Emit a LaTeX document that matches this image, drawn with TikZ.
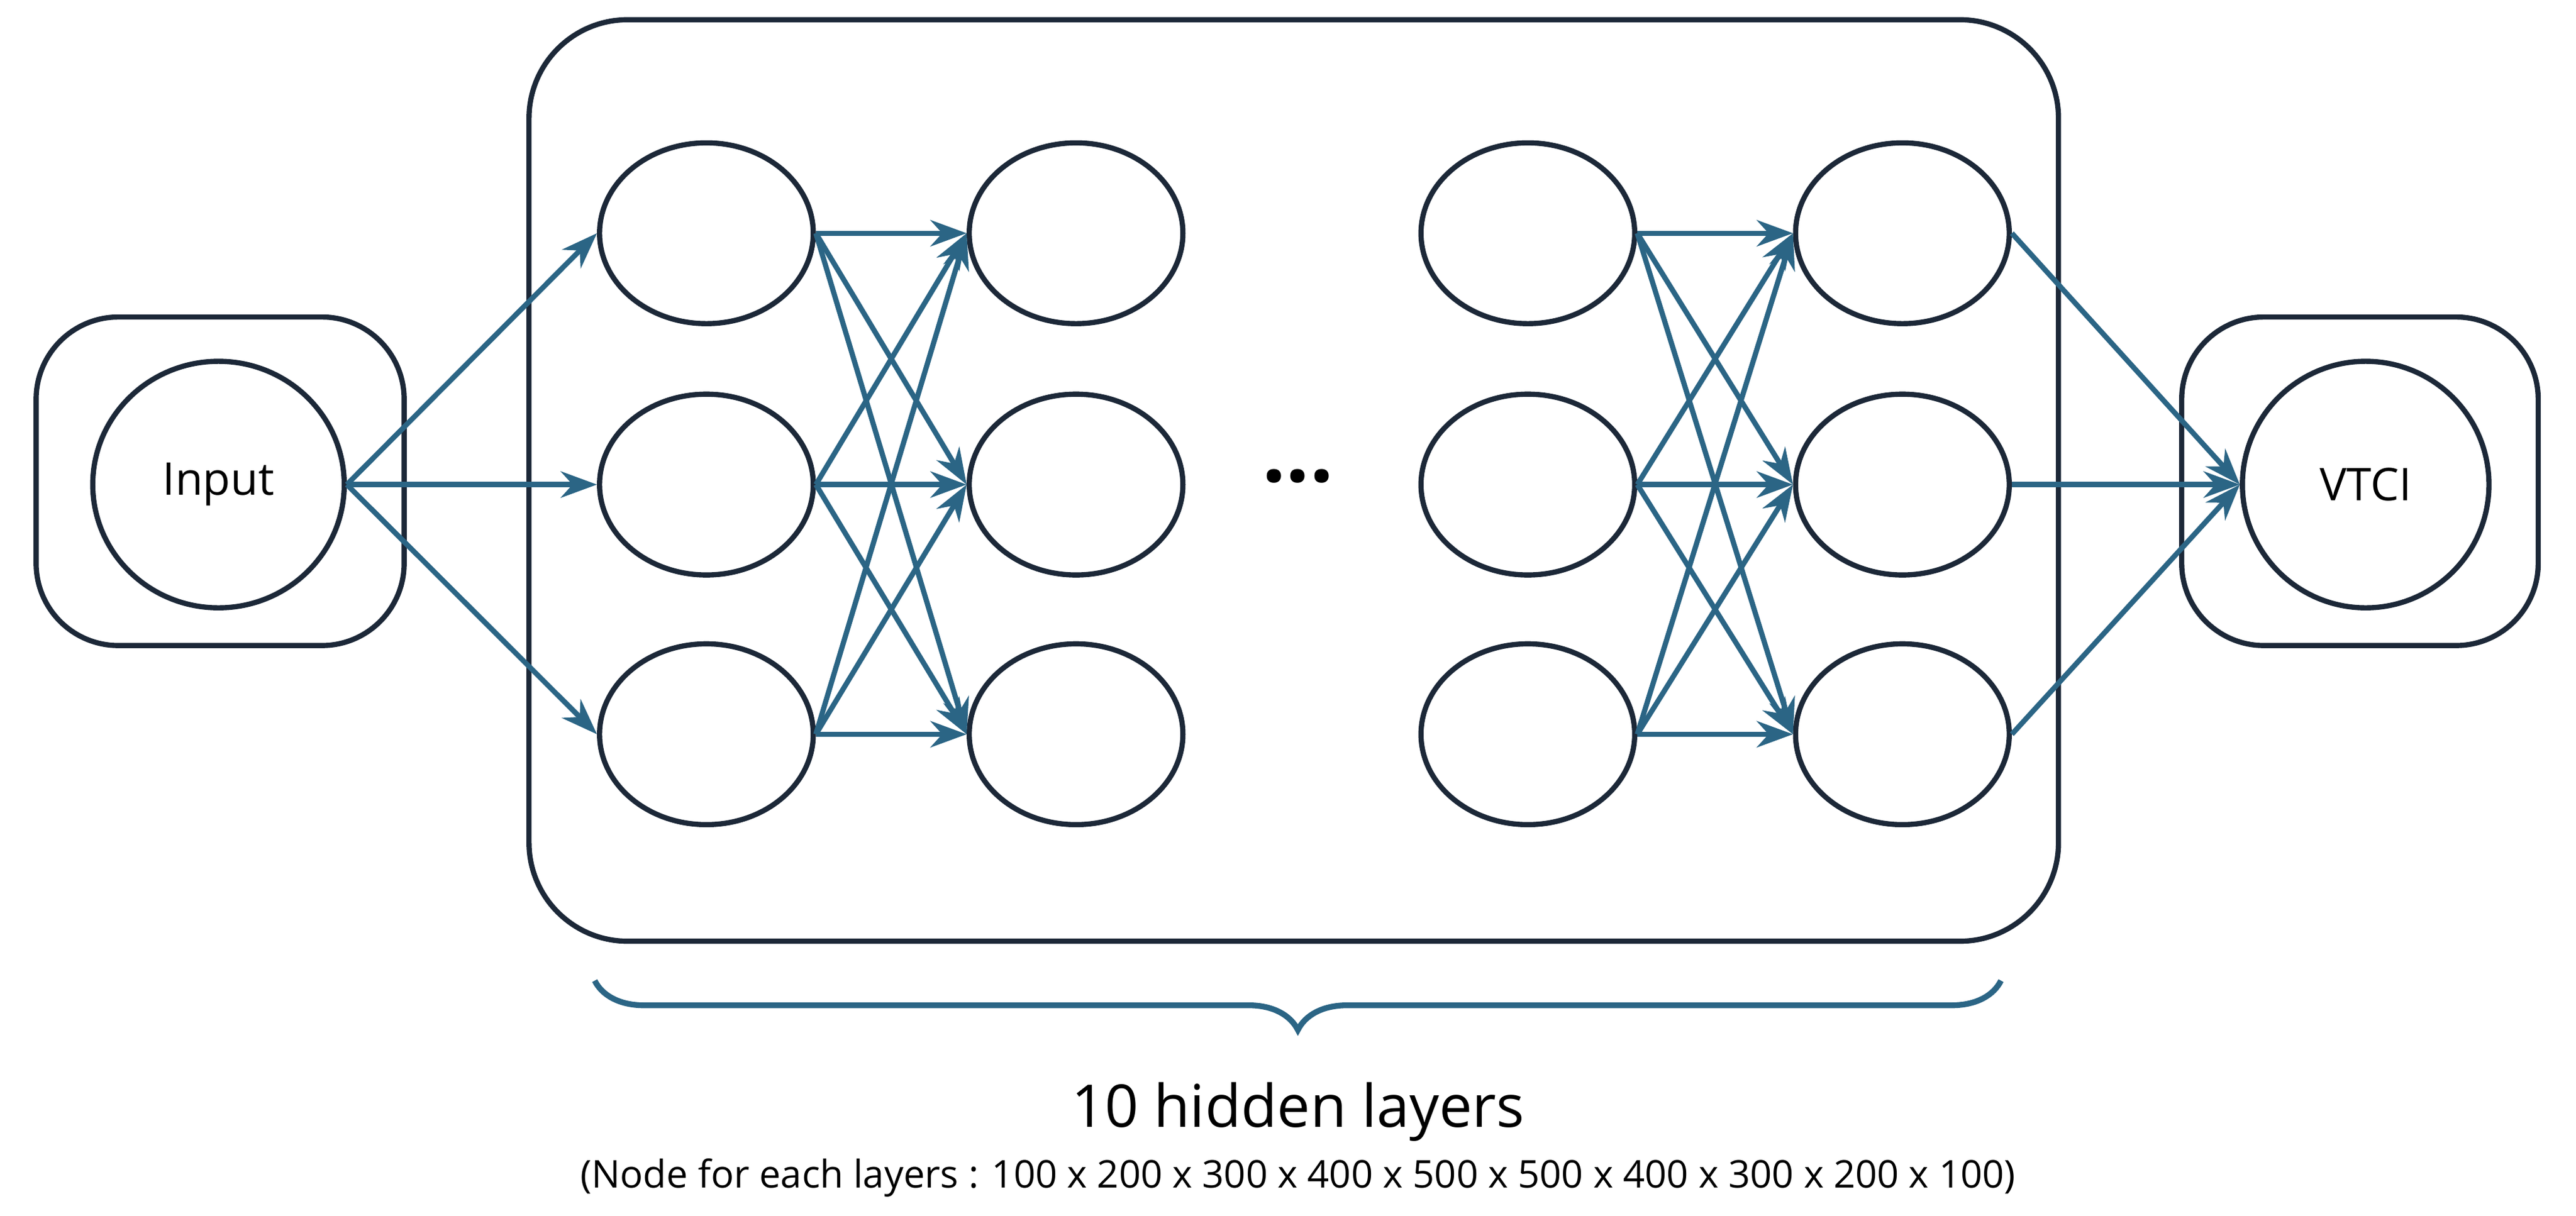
\documentclass[tikz,border=0pt]{standalone}
\usepackage{fontspec}
\setmainfont{Open Sans}
\usetikzlibrary{shapes.geometric,decorations.pathreplacing,arrows.meta}
\definecolor{linkblue}{HTML}{2B6585}
\definecolor{framenavy}{HTML}{1C2838}
\tikzset{
  neuron/.style={draw=framenavy, line width=0.9pt, ellipse, minimum width=1.3cm, minimum height=1.1cm},
  frame/.style={draw=framenavy, line width=0.9pt, rounded corners=#1},
  link/.style={draw=linkblue, line width=0.9pt, -{Stealth[length=2.2mm,width=1.6mm]}}
}
\begin{document}
\begin{tikzpicture}[x=0.01cm, y=-0.01cm]
    \useasboundingbox (0,0) rectangle (1568,740);
    % frames
    \draw[frame=0.5cm] (22,193) rectangle (246,393);
    \draw[frame=0.6cm] (322,12) rectangle (1253,573);
    \draw[frame=0.5cm] (1328,193) rectangle (1545,393);
    % input and output
    \node[neuron, minimum width=1.53cm, minimum height=1.5cm, font=\fontsize{7.8}{9}\selectfont] (in) at (133,295) {Input};
    \node[neuron, minimum width=1.5cm, minimum height=1.5cm, font=\fontsize{7.8}{9}\selectfont] (out) at (1440,295) {VTCI};
    % hidden layers
    \foreach \c/\x in {1/430, 2/655, 3/930, 4/1158} {
        \foreach \r/\y in {1/142, 2/295, 3/447} {
            \node[neuron] (h\c\r) at (\x,\y) {};
        }
    }
    \node[font=\Large\bfseries] (dots) at (790,290) {...};
    % connections
    \foreach \r in {1,2,3} {
        \draw[link] (in.east) -- (h1\r.west);
        \draw[link] (h4\r.east) -- (out.west);
        \foreach \s in {1,2,3} {
            \draw[link] (h1\r.east) -- (h2\s.west);
            \draw[link] (h3\r.east) -- (h4\s.west);
        }
    }
    % brace and caption
    \draw[linkblue, line width=1pt, decorate, decoration={brace, mirror, amplitude=0.3cm}] (362,597) -- (1218,597);
    \node[font=\fontsize{10.2}{12}\selectfont] (title) at (790,677) {10 hidden layers};
    \node[font=\fontsize{6.6}{8}\selectfont] (sizes) at (790,717) {(Node for each layers : 100 x 200 x 300 x 400 x 500 x 500 x 400 x 300 x 200 x 100)};
\end{tikzpicture}
\end{document}
